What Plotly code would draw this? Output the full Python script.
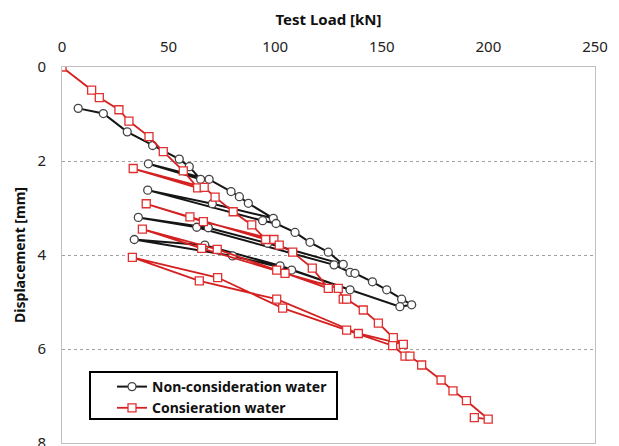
import plotly.graph_objects as go

# Non-consideration water (load kN, displacement mm)
load_non = [7.6, 19.4, 30.6, 42.5, 55.0, 59.7, 65.0, 40.5, 69.0, 79.3, 83.2, 87.4, 99.1, 70.5, 40.2,
            94.1, 100.4, 109.3, 116.3, 124.9, 131.9, 96.5, 68.6, 35.8, 63.2, 127.6, 135.1, 137.4,
            145.6, 152.3, 159.3, 164.0, 158.5, 107.7, 80.0, 33.9, 67.0, 102.3, 135.1]
disp_non = [0.88, 0.99, 1.38, 1.67, 1.96, 2.12, 2.39, 2.06, 2.39, 2.65, 2.76, 2.90, 3.22, 2.91, 2.62,
            3.27, 3.33, 3.52, 3.73, 3.94, 4.20, 3.75, 3.42, 3.20, 3.41, 4.21, 4.37, 4.39,
            4.57, 4.74, 4.94, 5.06, 5.10, 4.32, 4.02, 3.67, 3.79, 4.23, 4.74]

# Consideration water
load_con = [0.0, 13.9, 17.5, 26.7, 31.4, 40.8, 47.5, 56.9, 63.6, 33.4, 66.7, 71.8, 80.3, 89.0, 95.5,
            60.0, 39.5, 66.3, 99.4, 101.9, 108.2, 117.4, 124.9, 100.7, 72.8, 37.7, 65.5, 104.6,
            129.6, 131.9, 133.5, 141.3, 148.4, 155.4, 160.1, 139.0, 100.7, 64.4, 33.0, 73.0, 103.5,
            133.5, 155.1, 160.9, 163.2, 168.7, 177.8, 183.4, 189.7, 199.9, 193.4]
disp_con = [0.00, 0.49, 0.65, 0.91, 1.15, 1.48, 1.80, 2.21, 2.57, 2.16, 2.56, 2.77, 3.08, 3.36, 3.67,
            3.19, 2.91, 3.29, 3.67, 3.79, 3.94, 4.28, 4.71, 4.32, 3.88, 3.45, 3.86, 4.39,
            4.71, 4.94, 4.94, 5.17, 5.45, 5.76, 5.90, 5.67, 4.94, 4.55, 4.05, 4.48, 5.13,
            5.60, 5.93, 6.15, 6.15, 6.34, 6.66, 6.89, 7.10, 7.49, 7.46]

x_ticks = [0, 50, 100, 150, 200, 250]
y_ticks = [0, 2, 4, 6, 8]

fig = go.Figure()
fig.add_trace(go.Scatter(
    x=load_non, y=disp_non, mode="lines+markers", name="Non-consideration water",
    line=dict(color="#151515", width=2),
    marker=dict(symbol="circle", size=8, color="white", line=dict(color="#444444", width=1.3)),
))
fig.add_trace(go.Scatter(
    x=load_con, y=disp_con, mode="lines+markers", name="Consieration water",
    line=dict(color="#d42020", width=1.8),
    marker=dict(symbol="square", size=8, color="white", line=dict(color="#e03030", width=1.3)),
))

# legend box
fig.add_shape(type="rect", xref="paper", yref="paper",
              x0=(90 - 62) / 533, x1=(337 - 62) / 533,
              y0=(443 - 419) / 376, y1=(443 - 372) / 376,
              line=dict(color="black", width=2), fillcolor="white", layer="above")

fig.update_layout(
    width=619, height=446,
    margin=dict(l=62, r=24, t=67, b=3, autoexpand=False),
    paper_bgcolor="white", plot_bgcolor="white",
    font=dict(family="Noto Sans", color="#222222", size=15),
    showlegend=True,
    legend=dict(x=(112 - 62) / 533, y=(443 - 371) / 376, xanchor="left", yanchor="top",
                bgcolor="rgba(0,0,0,0)", borderwidth=0,
                font=dict(family="Noto Sans", size=14, color="#111111", weight="bold"),
                tracegroupgap=0),
    xaxis=dict(
        side="top", range=[0, 250], tickvals=x_ticks, showgrid=False, zeroline=False,
        showline=True, linecolor="#c0c0c0", linewidth=1, mirror=True, automargin=False,
        ticks="", ticklabelstandoff=8, ticklabeloverflow="allow",
        title=dict(text="<b>Test Load [kN]</b>", font=dict(size=15, color="#111111"), standoff=6),
    ),
    yaxis=dict(
        range=[8, 0], tickvals=y_ticks, showgrid=True, gridcolor="#a0a0a0", griddash="dot",
        gridwidth=1, zeroline=False, automargin=False,
        showline=True, linecolor="#c0c0c0", linewidth=1, mirror=True,
        ticks="", ticklabelstandoff=12, ticklabeloverflow="allow",
        title=dict(text="<b>Displacement [mm]</b>", font=dict(size=14, color="#111111"), standoff=8),
    ),
)

fig.write_html("out.html")
